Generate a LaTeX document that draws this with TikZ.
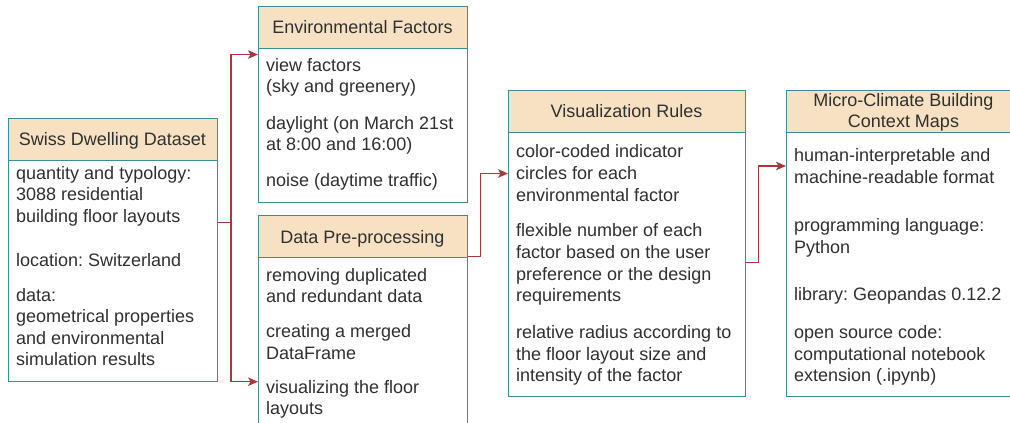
\documentclass[tikz,border=0pt]{standalone}
\usepackage{fontspec}
\setmainfont{Liberation Sans}
\usetikzlibrary{arrows.meta}
\definecolor{bordc}{HTML}{3A8F94}
\definecolor{hdrc}{HTML}{F6E1C3}
\definecolor{linkc}{HTML}{A8393A}
\definecolor{txtc}{HTML}{303030}
\frenchspacing
\begin{document}
\begin{tikzpicture}[x=1pt,y=-1pt,
  frame/.style={draw=bordc, line width=1.3pt, fill=white, inner sep=0pt, anchor=north west},
  hdrbox/.style={draw=bordc, line width=1.3pt, fill=hdrc, inner sep=0pt, anchor=north west, minimum height=42pt},
  txt/.style={font=\fontsize{18}{21.6}\selectfont\frenchspacing, text=txtc, inner sep=0pt, anchor=base west, align=left},
  htxt/.style={font=\fontsize{18}{21}\selectfont, text=txtc, inner sep=0pt, anchor=base, align=center},
  conn/.style={draw=linkc, line width=1.3pt, -{Stealth[length=10pt,width=8.5pt,inset=2.5pt]}},
  seg/.style={draw=linkc, line width=1.3pt}]
\useasboundingbox (0,0) rectangle (1010,423);
\fill[white] (0,0) rectangle (1010,423);

% (multi-line text nodes are placed by the baseline of their last line)
% Swiss Dwelling Dataset
\node[frame, minimum width=209pt, minimum height=263pt] (swiss) at (8,118) {};
\node[hdrbox, minimum width=209pt] (swissh) at (8,118) {};
\node[htxt] (swisst) at (112.5,145) {Swiss Dwelling Dataset};
\node[txt] (s1) at (16,222.5) {quantity and typology:\\3088 residential\\building floor layouts};
\node[txt] (s2) at (16,266) {location: Switzerland};
\node[txt] (s3) at (16,365.8) {data:\\geometrical properties\\and environmental\\simulation results};

% Environmental Factors
\node[frame, minimum width=209pt, minimum height=196pt] (env) at (258,6) {};
\node[hdrbox, minimum width=209pt] (envh) at (258,6) {};
\node[htxt] (envt) at (362.5,34) {Environmental Factors};
\node[txt] (e1) at (266,92.6) {view factors\\(sky and greenery)};
\node[txt] (e2) at (266,150.6) {daylight (on March 21st\\at 8:00 and 16:00)};
\node[txt] (e3) at (266,186.7) {noise (daytime traffic)};

% Data Pre-processing
\node[frame, minimum width=209pt, minimum height=230pt] (data) at (258,215) {};
\node[hdrbox, minimum width=209pt] (datah) at (258,215) {};
\node[htxt] (datat) at (362.5,243) {Data Pre-processing};
\node[txt] (d1) at (266,302.6) {removing duplicated\\and redundant data};
\node[txt] (d2) at (266,359.3) {creating a merged\\DataFrame};
\node[txt] (d3) at (266,414.6) {visualizing the floor\\layouts};

% Visualization Rules
\node[frame, minimum width=237pt, minimum height=306pt] (vis) at (508,90) {};
\node[hdrbox, minimum width=237pt] (vish) at (508,90) {};
\node[htxt] (vist) at (626.5,117) {Visualization Rules};
\node[txt] (v1) at (516,201) {color-coded indicator\\circles for each\\environmental factor};
\node[txt] (v2) at (516,301.7) {flexible number of each\\factor based on the user\\preference or the design\\requirements};
\node[txt] (v3) at (516,381.7) {relative radius according to\\the floor layout size and\\intensity of the factor};

% Micro-Climate Building Context Maps
\node[frame, minimum width=235pt, minimum height=306pt] (micro) at (786,90) {};
\node[hdrbox, minimum width=235pt] (microh) at (786,90) {};
\node[htxt] (microt) at (903.5,127.7) {Micro-Climate Building\\Context Maps};
\node[txt] (m1) at (794,183.3) {human-interpretable and\\machine-readable format};
\node[txt] (m2) at (794,253.3) {programming language:\\Python};
\node[txt] (m3) at (794,300) {library: Geopandas 0.12.2};
\node[txt] (m4) at (794,381.7) {open source code:\\computational notebook\\extension (.ipynb)};

% connector points
\coordinate (sOut) at (swiss.east |- 0,222.3);
\coordinate (sJ) at (231,222.3);
\coordinate (eIn) at (env.west |- 0,54.5);
\coordinate (dIn) at (data.west |- 0,381.7);
\coordinate (dOut) at (data.east |- 0,256.8);
\coordinate (vIn) at (vis.west |- 0,173.5);
\coordinate (vOut) at (vis.east |- 0,262.7);
\coordinate (mIn) at (micro.west |- 0,166);

\draw[seg] (sOut) -- (sJ);
\draw[conn] (sJ) |- (eIn);
\draw[conn] (sJ) |- (dIn);
\draw[conn] (dOut) -- (480.8,256.8) |- (vIn);
\draw[conn] (vOut) -- (758.3,262.7) |- (mIn);
\end{tikzpicture}
\end{document}
